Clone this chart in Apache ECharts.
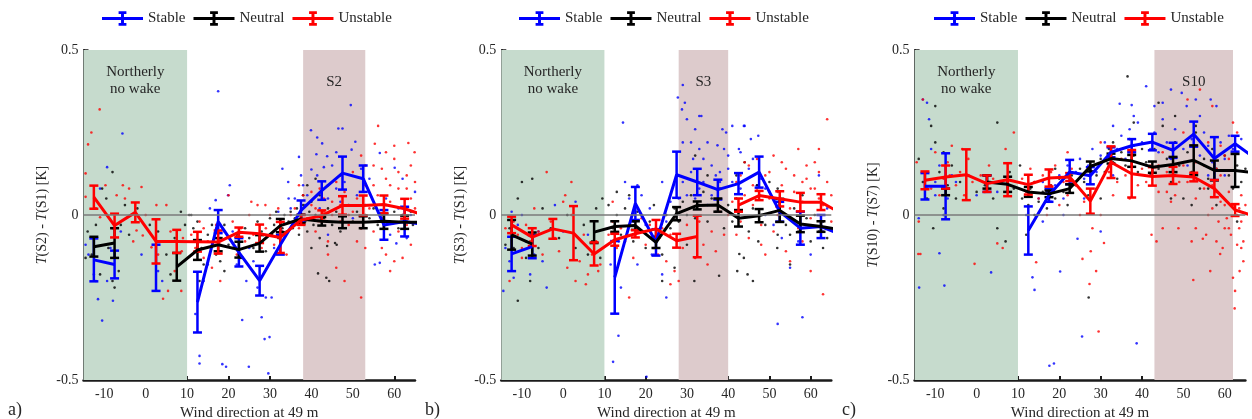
<!DOCTYPE html>
<html><head><meta charset="utf-8">
<script src="https://cdn.jsdelivr.net/npm/echarts@6/dist/echarts.min.js"></script>
<style>html,body{margin:0;padding:0;background:#fff}#c{width:1252px;height:419px}</style>
</head><body><div id="c"></div>
<script>
// ---------------- data ----------------
const dirs = [-12.5,-7.5,-2.5,2.5,7.5,12.5,17.5,22.5,27.5,32.5,37.5,42.5,47.5,52.5,57.5,62.5,67.5];
const xTickValues = [-10,0,10,20,30,40,50,60];
const panelLetters = ['a)','b)','c)'];
const sensorPairs = [['S2','S1'],['S3','S1'],['S10','S7']];
const wakeNames = ['S2','S3','S10'];
const northRange = [-15,10];
const wakeRanges = [[38,53],[28,40],[43,62]];
const classNames = ['Stable','Neutral','Unstable'];

// panel a
const stableA    = [-0.136,-0.15,null,-0.16,null,-0.264,-0.02,-0.113,-0.199,-0.09,0.014,0.074,0.127,0.11,-0.03,-0.02,-0.03];
const stableAErr = [0.065,0.042,null,0.07,null,0.092,0.035,0.043,0.045,0.03,0.03,0.028,0.05,0.04,0.045,0.045,null];
const neutralA    = [-0.096,-0.085,null,null,-0.157,-0.106,-0.09,-0.105,-0.086,-0.032,-0.012,-0.019,-0.022,-0.022,-0.019,-0.022,-0.022];
const neutralAErr = [0.03,0.045,null,null,0.042,0.03,0.02,0.024,0.025,0.02,0.013,0.013,0.018,0.018,0.023,0.02,null];
const unstableA    = [0.054,-0.032,0.008,-0.08,-0.08,-0.081,-0.082,-0.052,-0.057,-0.068,-0.015,-0.002,0.029,0.029,0.032,0.019,-0.002];
const unstableAErr = [0.035,0.036,0.03,0.067,0.035,0.03,0.035,0.014,0.028,0.047,0.015,0.016,0.028,0.03,0.027,0.03,null];
// panel b
const stableB    = [-0.118,-0.096,null,null,null,-0.189,0.035,-0.083,0.122,0.1,0.077,0.095,0.13,0.01,-0.04,-0.035,-0.06];
const stableBErr = [0.052,0.035,null,null,null,0.11,0.05,0.04,0.07,0.04,0.03,0.032,0.047,0.03,0.05,0.035,null];
const neutralB    = [-0.06,-0.088,null,null,-0.052,-0.035,-0.032,-0.083,0.004,0.029,0.03,-0.01,-0.002,0.014,-0.027,-0.035,-0.045];
const neutralBErr = [0.045,0.035,null,null,0.033,0.016,0.013,0.017,0.02,0.012,0.02,0.025,0.02,0.035,0.025,0.016,null];
const unstableB    = [-0.03,-0.067,-0.042,-0.055,-0.118,-0.075,-0.057,-0.042,-0.078,-0.065,null,0.03,0.059,0.049,0.039,0.039,0.004];
const unstableBErr = [0.025,0.027,0.03,0.082,0.035,0.018,0.011,0.027,0.021,0.063,null,0.02,0.014,0.023,0.028,0.024,null];
// panel c
const stableC    = [0.087,0.087,null,0.095,null,-0.047,0.06,0.13,0.119,0.19,0.21,0.221,0.196,0.245,0.171,0.216,0.17];
const stableCErr = [0.04,0.1,null,0.025,null,0.073,0.02,0.037,0.026,0.015,0.02,0.025,0.023,0.038,0.065,0.024,null];
const neutralC    = [null,0.07,null,0.1,0.093,0.07,0.064,0.08,0.147,0.171,0.164,0.145,0.153,0.166,0.135,0.135,0.127];
const neutralCErr = [null,0.01,null,0.02,0.023,0.015,0.01,0.013,0.015,0.015,0.018,0.017,0.023,0.045,0.03,0.05,null];
const unstableC    = [0.105,0.115,0.122,0.095,0.107,0.092,0.112,0.115,0.042,0.16,0.125,0.117,0.12,0.115,0.08,0.015,-0.005];
const unstableCErr = [0.027,0.035,0.077,0.025,0.05,0.03,0.026,0.012,0.038,0.048,0.072,0.028,0.026,0.013,0.026,0.018,null];

// individual samples (estimated)
const stablePtsA = [[-14.5,-0.09],[-13.8,-0.12],[-12,-0.2],[-11.5,-0.255],[-10.5,-0.32],[-11,0.08],[-9.3,0.145],[-5.6,0.247],[-7.9,-0.26],[-9.3,-0.2],[-8.5,-0.1],[-6,-0.05],[-12.5,-0.18],[3,-0.17],[4,-0.2],[-1,-0.12],
 [17.5,0.375],[20.3,0.09],[19.9,0.06],[16.9,0.045],[13,-0.427],[13,-0.45],[18.5,-0.452],[19.4,-0.46],[24.9,-0.46],[28.7,-0.376],[29.9,-0.37],[29.6,-0.48],[23.3,-0.318],[28,-0.31],[29,-0.25],[30.4,-0.25],[24.3,-0.2],[14,-0.2],[15,-0.15],[12,-0.3],[21,-0.05],[25,-0.1],[22,-0.15],[26,-0.14],[31,-0.1],[33,-0.05],[34.5,0.05],[32,0.01],[36,-0.02],[15.5,0.02],[18,-0.07],[27,-0.22],
 [49.5,0.333],[39.9,0.257],[46.5,0.262],[47.5,0.262],[50.6,0.222],[41.4,0.235],[42.6,0.217],[37,0.176],[41.2,0.184],[43.8,0.178],[49.7,0.198],[33,0.14],[40,0.138],[43,0.145],[41.4,0.12],[34.4,0.1],[38,0.09],[45,0.15],[56.5,0.188],[60.1,0.143],[62,0.11],[65,0.07],[55.3,-0.15],[56.5,-0.145],[60.5,-0.086],[59,-0.06],[63,-0.07],[36,0.05],[38.5,0.03],[44,0.05],[46,0.08],[48,0.1],[51,0.06],[52,0.14],[39,0.06],[35,0.02],[42,0.02],[47,0.04],[53,0.03],[58,0.05],[61,0.02],[64,0.0],[38,-0.02],[44,-0.06],[50,-0.01],[54,0.11],[37.5,0.12],[46,0.19]];
const neutralPtsA = [[-14,-0.05],[-13,-0.12],[-12,-0.03],[-11,-0.18],[-10.5,0.08],[-9.5,0.05],[-9,-0.1],[-8,-0.2],[-7.5,-0.22],[-6.5,-0.17],[-6,-0.03],[-5,0.03],[-4,-0.06],[-2,0.02],[1,-0.03],[3,-0.05],[5,-0.12],[6,-0.18],[7,-0.07],[8.5,0.01],[9.5,-0.03],[-8,0.13],[-14.5,-0.13],
 [10.5,0.0],[11.5,-0.04],[12.5,-0.02],[13.5,-0.1],[14,-0.15],[15,-0.06],[16,-0.03],[17,-0.12],[18,-0.14],[19,-0.03],[20,-0.09],[21,-0.1],[22,-0.06],[23,-0.13],[24,-0.04],[25,-0.07],[26,-0.1],[27,-0.02],[28,-0.05],[29,-0.11],[30,-0.01],[30.5,-0.06],[31,-0.03],[31.5,0.01],[32,-0.07],[32.5,-0.02],[33,-0.04],[33.5,0.0],[34,-0.05],[34.5,-0.02],[35,0.01],[35.5,-0.04],[13,-0.2],[19,-0.17],[11,0.0],
 [36,-0.01],[36.5,0.02],[37,-0.03],[37.5,0.0],[38,0.03],[38.5,-0.02],[39,-0.05],[39.5,0.01],[40,0.04],[40.5,-0.03],[41,0.0],[41.6,-0.177],[43.6,-0.19],[44.3,-0.2],[43.8,-0.094],[45.7,-0.085],[46.1,-0.09],[42,0.06],[43,-0.01],[44,0.02],[45,-0.03],[46,0.01],[47,-0.05],[48,0.0],[49,0.03],[50,-0.02],[51,0.01],[52,-0.04],[53,0.0],[54,-0.01],[55,0.02],[56,-0.03],[57,0.0],[58,0.03],[59,-0.02],[60,0.01],[61,-0.04],[62,0.0],[63,-0.02],[64,0.01],[64.5,-0.03],[41,0.11],[39,0.09],[44,0.09],[47,0.12],[38,0.06],[42,-0.07],[40,-0.1],[37,-0.06]];
const unstablePtsA = [[-11.1,0.32],[-13.1,0.25],[-13.9,0.214],[-14.5,0.126],[-14.5,0.055],[-9.7,0.09],[-5.5,0.09],[-4,0.08],[-1,0.085],[2.6,0.03],[5,0.03],[-5,0.05],[-11,-0.007],[-6.7,-0.026],[-2.2,-0.047],[-0.7,-0.062],[1.4,-0.098],[4.2,-0.254],[5.4,-0.23],[8.6,-0.23],[7,-0.17],[8.7,-0.11],[9,-0.07],[-8,-0.04],[-3,-0.08],[0,0.0],[3,-0.12],[6,-0.05],[-12,0.02],[-7,0.06],
 [11,-0.06],[12,-0.1],[13,-0.02],[14,-0.13],[15,-0.08],[16,-0.16],[17,-0.03],[18,-0.09],[19,-0.05],[20,-0.07],[21,-0.02],[22,-0.12],[23,-0.04],[24,-0.08],[25,0.0],[26,-0.06],[27,0.03],[28,-0.1],[29,-0.04],[30,0.0],[31,-0.09],[32,0.02],[33,-0.05],[34,-0.12],[35,0.0],[20,0.06],[25.5,0.04],[28.9,0.03],[18,-0.2],[14,-0.04],
 [36,0.02],[37,-0.04],[38,0.06],[39,-0.01],[40,0.03],[41,-0.05],[42,0.08],[43,0.01],[44,-0.08],[45,0.04],[46,0.1],[47,-0.02],[48,0.07],[49,0.0],[50,0.13],[51,0.05],[52,-0.04],[53,0.09],[54,0.02],[55,0.15],[56,0.06],[57,-0.01],[58,0.11],[59,0.04],[60,0.17],[61,0.08],[62,0.0],[63,0.12],[64,0.05],[65,0.1],[56.1,0.27],[55.3,0.216],[58,0.19],[60,0.21],[63.4,0.218],[64.9,0.19],[52,0.18],[57,0.14],[59,0.09],[61,0.13],[63,0.08],[55,-0.05],[57,-0.1],[58,-0.12],[60,-0.14],[62,-0.13],[64,-0.09],[59,-0.17],[53,-0.1],[51,-0.08],[48,-0.2],[46,-0.16],[44,-0.12],[52,-0.25],[47,0.03],[45,0.0],[41,0.02],[43,0.05],[49,-0.03],[61,-0.05],[63,-0.03],[65,0.02],[37,0.09],[40,0.07],[50,0.01],[53,0.15],[55,0.09],[64,0.15]];

const stablePtsB = [[-14,-0.1],[-13,-0.14],[-12,-0.19],[-11,-0.03],[-10,0.0],[-9,-0.08],[-8,-0.18],[-7,-0.12],[-6,-0.05],[-5,-0.14],[-4,-0.22],[-2,0.03],[0,-0.05],[3,0.04],[6,-0.06],[-12.5,0.01],[-14.5,-0.23],
 [12.1,-0.445],[13.4,-0.366],[14,-0.22],[11.5,-0.15],[15,0.1],[16,0.05],[17,-0.02],[18,0.09],[19,0.06],[20,-0.03],[21,0.02],[22,-0.12],[23,-0.07],[24,0.1],[25,-0.02],[26,0.04],[14.5,0.28],[20.2,-0.49],[13.5,-0.08],[18,-0.15],[24,-0.18],[25,-0.25],[21.5,-0.12],
 [29,0.394],[27.8,0.356],[28.8,0.32],[30,0.29],[33,0.3],[31.5,0.17],[37.4,0.211],[38.6,0.26],[39.5,0.25],[43.8,0.27],[45.5,0.23],[47.3,0.24],[42.6,0.2],[29.5,0.34],[31,0.22],[29,0.22],[32,0.26],[33,0.2],[34,0.17],[35,0.22],[36,0.15],[37,0.12],[38,0.1],[39,0.2],[40,0.14],[41,0.27],[43,0.19],[44,0.27],[46,0.17],[48,0.11],[49,0.08],[50,0.07],[28,0.05],[29,0.1],[30,0.06],[31,0.13],[32,0.05],[33,0.08],[34,0.1],[35,0.03],[36,0.06],[38,0.13],[41,0.1],[43,0.08],[45,0.14],[47,0.09],[49,0.0],[51,-0.03],[53,-0.07],[55,-0.16],[57,-0.08],[60,-0.12],[63,-0.05],[62,0.12],[64,0.02],[58,-0.31],[52,-0.33],[40,0.18],[33.5,0.3]];
const neutralPtsB = [[-14,-0.09],[-13,-0.04],[-12,-0.1],[-11,0.05],[-10,0.1],[-9,-0.13],[-8,-0.2],[-7,-0.06],[-6,-0.1],[-5,0.02],[-3,-0.04],[-1,-0.07],[1,0.0],[3,-0.1],[5,-0.03],[7,-0.08],[8,0.02],[9,-0.13],[-11,-0.26],[-7.5,0.11],[9.5,0.05],[6,-0.12],
 [11,0.03],[12,-0.04],[13,0.0],[14,-0.06],[15,0.02],[16,-0.03],[17,-0.08],[18,0.01],[19,-0.05],[20,-0.1],[21,-0.02],[22,0.03],[23,-0.06],[24,-0.12],[25,0.0],[26,-0.04],[27,0.02],[28,-0.02],[29,0.04],[30,0.0],[31,0.06],[32,-0.01],[33,0.03],[34,0.07],[35,-0.02],[36,0.05],[37,0.01],[38,0.08],[39,-0.04],[40,0.03],[13,0.07],[16,0.06],[24,-0.2],[27,-0.16],[30,-0.09],[32,0.18],[35,0.12],[37.8,-0.184],[31.8,-0.2],
 [41,-0.02],[42,0.05],[42.7,-0.118],[43.8,-0.13],[42.2,-0.17],[44.7,-0.18],[45,-0.05],[46,0.02],[47.3,-0.08],[48,0.0],[49,-0.03],[50,0.1],[51.9,-0.1],[52,-0.06],[53,0.04],[54,-0.03],[55,-0.06],[56,0.02],[57,-0.05],[58,0.06],[59,-0.01],[60,-0.08],[61,0.0],[62,-0.05],[63,-0.02],[64,-0.07],[65,-0.04],[44,0.16],[42,0.12],[47,0.09],[52,0.08],[55,-0.15],[63,-0.1],[46,-0.2]];
const unstablePtsB = [[-14,-0.04],[-13,-0.2],[-12,-0.02],[-11,-0.06],[-10,-0.1],[-9,-0.03],[-8,-0.08],[-7,0.02],[-6,-0.05],[-5,-0.12],[-4,0.13],[-3,-0.02],[-2,-0.07],[-1,-0.11],[0,0.04],[1,-0.16],[2,0.0],[3,-0.2],[4,-0.14],[5,-0.06],[6,-0.18],[7,-0.12],[8,-0.08],[9,-0.15],[0.5,0.06],[-10,-0.13],[2,0.1],[5.5,-0.21],[8.5,-0.17],
 [11,-0.06],[12,-0.02],[13,-0.1],[14,-0.04],[15,-0.08],[16,-0.25],[17,-0.13],[18,-0.05],[19,-0.01],[20,-0.09],[21,-0.03],[22,-0.07],[23,-0.12],[24,-0.04],[25,-0.14],[26,-0.06],[27,-0.17],[28,-0.2],[29,-0.1],[30,-0.03],[31,-0.07],[32,-0.13],[33,-0.02],[34,-0.09],[35,-0.15],[36,-0.05],[37,-0.11],[38,0.01],[39,-0.06],[40,0.0],[14,-0.07],[26,-0.21],[22,-0.1],[12,0.04],
 [41,0.04],[42,0.1],[43,-0.02],[44,0.06],[45,0.15],[46,0.03],[47,0.08],[48,-0.03],[49,0.12],[50,0.05],[51,0.18],[52,0.0],[53,0.09],[54,0.14],[55,0.02],[56,0.07],[57,0.2],[58,0.04],[59,0.11],[60,-0.01],[61,0.08],[62,0.13],[63,0.03],[64,0.1],[65,0.06],[44,0.16],[47,0.17],[50,0.13],[53,0.16],[56,0.12],[59,0.15],[62,0.2],[64,0.29],[61,0.16],[42,-0.06],[45,-0.07],[48,-0.09],[51,-0.05],[54,-0.11],[57,-0.04],[60,-0.17],[63,-0.24],[55,-0.14],[58,-0.08],[49,-0.12],[46,0.09],[52,0.07],[58,0.1],[62,0.05],[65,-0.02],[43,0.12],[60,0.08]];

const stablePtsC = [[-13,0.35],[-12,0.34],[-10,0.1],[-9,0.15],[-11,0.2],[-14,-0.01],[-9,-0.116],[-8,0.0],[-7,0.05],[-13.9,-0.22],[-7.8,-0.214],[3.5,-0.174],[-5,0.1],[-10,0.06],[-12,0.08],[0,0.06],[5,0.07],[-6,0.12],[-11.5,0.29],
 [12,0.0],[13.5,-0.189],[14,-0.227],[17.6,-0.457],[18.7,-0.45],[20.2,-0.171],[24.4,-0.072],[25.5,-0.368],[30,-0.05],[38.7,-0.389],[15,0.05],[16,0.1],[17,0.07],[18,0.04],[19,0.09],[20,0.12],[21,0.05],[22,0.15],[23,0.1],[24,0.13],[25,0.17],[26,0.11],[27,0.15],[28,0.2],[29,0.13],[30,0.18],[31,0.22],[32,0.15],[33,0.27],[34,0.2],[35,0.24],[36,0.17],[37,0.26],[38,0.21],[39,0.28],[40,0.22],[16,-0.02],[21,0.0],[26,0.05],[33,0.12],[34.6,0.337],[37.5,0.333],[41,0.39],[38,0.3],
 [41,0.15],[42,0.2],[43,0.25],[44,0.19],[45,0.29],[46,0.22],[47,0.17],[48,0.26],[49.6,0.37],[50,0.2],[50.8,0.33],[52,0.23],[53,0.35],[54,0.18],[55,0.25],[56,0.21],[56.6,0.35],[57,0.16],[58,0.33],[59,0.22],[60,0.17],[61,0.24],[62,0.2],[63,0.19],[64,0.23],[45,0.34],[51,0.15],[56,0.12],[48,0.12],[54,0.3],[60,0.12],[43,0.33],[47,0.38]];
const neutralPtsC = [[-14,0.17],[-13,0.1],[-12,0.05],[-11,0.27],[-10,0.22],[-10.5,-0.04],[-9,0.13],[-8,0.02],[-7,0.09],[-6,0.15],[-5,0.05],[-4,0.1],[-2,0.12],[0,0.07],[2,0.09],[4,0.05],[5,-0.04],[6,0.1],[8,0.13],[9,0.08],[-10,0.33],[-8,0.19],[5,0.28],[7,-0.08],
 [10.5,0.15],[11,0.05],[12,-0.06],[12.5,0.03],[13,0.08],[14,0.1],[15,0.04],[16,0.07],[17,0.02],[18,0.09],[19,0.05],[20,0.11],[21,0.07],[22,0.03],[23,0.12],[24,0.09],[25,0.14],[26,0.1],[27,0.06],[28,0.15],[29,0.12],[30,0.17],[31,0.13],[32,0.2],[33,0.16],[34,0.11],[35,0.19],[36,0.15],[37,0.23],[38,0.18],[39,0.13],[40,0.2],[27.1,-0.25],[14,0.0],[19,0.14],[29,0.08],[33,0.22],[36.5,0.42],[38,0.28],[30,0.05],
 [41,0.16],[42,0.12],[43,0.2],[44,0.14],[45,0.27],[46,0.17],[47,0.1],[48,0.22],[49,0.15],[50,0.05],[51,0.19],[52,0.13],[53,0.25],[54,0.08],[55,0.17],[56,0.11],[57,0.2],[58,0.14],[59,0.06],[60,0.18],[61,0.12],[62,0.08],[63,0.15],[64,0.1],[65,0.14],[44,0.34],[48,0.3],[53,0.27],[58,0.03],[63,-0.02],[47,0.05],[52,0.03],[56,0.08]];
const unstablePtsC = [[-14,-0.02],[-14.1,-0.118],[-13.6,-0.118],[-14.5,0.16],[-13,0.35],[-12,0.13],[-11,0.08],[-10,0.19],[-9,0.06],[-8,0.11],[-7,0.16],[-6,0.21],[-5,0.09],[-4,0.13],[-3,0.06],[-2,0.17],[-1,0.1],[-0.5,-0.148],[1,0.12],[2,0.07],[3,0.15],[4,0.11],[5,-0.086],[6.3,-0.1],[7,0.2],[8,0.09],[9,0.25],[-6.5,0.12],[-3.5,0.2],
 [11,0.11],[12,0.07],[13,0.14],[14,0.1],[14.4,-0.143],[15,0.05],[16,0.12],[17,0.0],[18,0.09],[19,0.15],[20,0.03],[21,0.1],[22,0.06],[23,0.14],[24,0.09],[25,0.0],[25.6,-0.133],[26,0.04],[27.3,-0.209],[27.6,-0.11],[28,-0.04],[28.9,-0.17],[29.5,-0.353],[30.8,-0.085],[30,0.0],[32,0.13],[33,0.06],[34,0.1],[35,0.17],[36,0.12],[37,0.05],[38,0.19],[39,0.09],[40,0.14],[22,0.19],[30,0.22],[18,0.13],
 [41,0.1],[42.3,-0.06],[43.5,-0.08],[44,0.15],[45,-0.04],[46,0.07],[47,0.2],[48,0.12],[48.8,-0.04],[50,0.25],[51,0.1],[52,-0.08],[52.4,-0.197],[53,0.05],[54.7,-0.072],[55,0.15],[55.5,-0.06],[56,0.0],[56.5,-0.17],[57,0.09],[58,-0.08],[58.5,-0.02],[58.9,-0.118],[59,0.12],[59.5,-0.1],[60,0.03],[60.5,-0.01],[61,0.07],[61.5,-0.06],[62,-0.19],[62.5,-0.23],[63,0.0],[63,-0.09],[63.5,-0.04],[64,-0.02],[63.6,-0.17],[64.5,-0.08],[65,0.03],[62.4,-0.283],[64,-0.1],[45,0.19],[48,0.06],[50,0.15],[53,0.16],[56,0.22],[59,0.21],[62,0.28],[57,0.33],[51,0.35],[54,0.38],[61,0.17],[63,0.25],[58,0.14],[60,0.18],[44,0.07],[46,0.13],[49,0.1],[52,0.12],[55,0.08],[57,0.02],[59,0.04],[61,-0.04],[62,0.03],[64,0.06],[63.5,0.02],[42,0.15],[47,0.04],[53,-0.04],[58,0.07],[60,-0.04],[64.5,-0.14]];

const meanData = [[stableA,neutralA,unstableA],[stableB,neutralB,unstableB],[stableC,neutralC,unstableC]];
const errData  = [[stableAErr,neutralAErr,unstableAErr],[stableBErr,neutralBErr,unstableBErr],[stableCErr,neutralCErr,unstableCErr]];
const ptsData  = [[stablePtsA,neutralPtsA,unstablePtsA],[stablePtsB,neutralPtsB,unstablePtsB],[stablePtsC,neutralPtsC,unstablePtsC]];

// ---------------- styling ----------------
const colors = ['#0000ff','#000000','#ff0000'];
const FONT = '"Liberation Serif","DejaVu Serif",serif';
const TXT = '#262626';
const gridBoxes = [
  {left:83.5, top:50, width:331.5, height:330},
  {left:501.3, top:50, width:330, height:330},
  {left:914.6, top:50, width:330.8, height:330}
];
const legendLefts = [102, 519, 934];
const letterLefts = [8, 425, 842];
const legendIcon = 'path://M0,6h42v3h-42z M19.5,0h3v15h-3z M17,0h8v3h-8z M17,12h8v3h-8z';

function renderErr(params, api) {
  const x = api.value(0), c = api.value(1), e = api.value(2);
  if (isNaN(c) || isNaN(e)) return;
  const top = api.coord([x, c + e]), bot = api.coord([x, c - e]);
  const hw = 4.5;
  const style = {stroke: api.visual('color'), lineWidth: 2.5};
  return {type:'group', children:[
    {type:'line', shape:{x1:top[0],y1:top[1],x2:bot[0],y2:bot[1]}, style},
    {type:'line', shape:{x1:top[0]-hw,y1:top[1],x2:top[0]+hw,y2:top[1]}, style},
    {type:'line', shape:{x1:bot[0]-hw,y1:bot[1],x2:bot[0]+hw,y2:bot[1]}, style}
  ]};
}

const grid = gridBoxes.map(g => Object.assign({containLabel:false, outerBoundsMode:'none'}, g));
const xAxis = [0,1,2].map(i => ({
  gridIndex:i, type:'value', min:-15, max:65,
  name:'Wind direction at 49 m', nameLocation:'middle', nameGap:24,
  nameTextStyle:{fontFamily:FONT, fontSize:15, color:TXT},
  axisLine:{show:true, onZero:false, lineStyle:{color:'#1a1a1a', width:2.5}},
  axisTick:{show:true, inside:true, length:4, customValues:xTickValues, lineStyle:{color:'#1a1a1a', width:2}},
  axisLabel:{customValues:xTickValues, fontFamily:FONT, fontSize:14, color:TXT, margin:7},
  splitLine:{show:false}
}));
const yAxis = [0,1,2].map(i => ({
  gridIndex:i, type:'value', min:-0.5, max:0.5, interval:0.5,
  name:'{i|T}(' + sensorPairs[i][0] + ') - {i|T}(' + sensorPairs[i][1] + ') [K]',
  nameLocation:'middle', nameGap:34,
  nameTextStyle:{fontFamily:FONT, fontSize:14, color:TXT,
    rich:{i:{fontFamily:FONT, fontSize:14, fontStyle:'italic', color:TXT}}},
  axisLine:{show:true, onZero:false, lineStyle:{color:'#1a1a1a', width:2}},
  axisTick:{show:true, inside:true, length:5, lineStyle:{color:'#1a1a1a', width:1.5}},
  axisLabel:{fontFamily:FONT, fontSize:14, color:TXT, margin:5,
    formatter: v => (v === 0 ? '0' : String(v))},
  splitLine:{show:false}
}));

const series = [];
for (let i = 0; i < 3; i++) {
  // shaded regions
  series.push({
    type:'line', xAxisIndex:i, yAxisIndex:i, data:[], z:1, silent:true,
    markArea:{silent:true,
      label:{show:true, position:'insideTop', distance:14, fontFamily:FONT, fontSize:15, lineHeight:16.5, color:TXT},
      data:[
        [{name:'Northerly\nno wake', xAxis:northRange[0], itemStyle:{color:'#c6dbcd'}}, {xAxis:northRange[1]}],
        [{name:wakeNames[i], xAxis:wakeRanges[i][0], itemStyle:{color:'#ddcbcc'}, label:{distance:24}}, {xAxis:wakeRanges[i][1]}]
      ]}
  });
  // zero line
  series.push({
    type:'line', xAxisIndex:i, yAxisIndex:i, data:[], z:2, silent:true,
    markLine:{silent:true, symbol:['none','none'], label:{show:false},
      lineStyle:{color:'#7a7a7a', width:1.5, type:'solid'}, data:[{yAxis:0}]}
  });
  // samples
  for (let k = 0; k < 3; k++) {
    series.push({
      type:'scatter', name:classNames[k] + ' samples', xAxisIndex:i, yAxisIndex:i, z:3, silent:true,
      symbol:'circle', symbolSize:2.6, itemStyle:{color:colors[k]},
      data: ptsData[i][k]
    });
  }
  // means + error bars
  for (let k = 0; k < 3; k++) {
    series.push({
      type:'line', name:classNames[k], xAxisIndex:i, yAxisIndex:i, z:4, silent:true,
      symbol:'none', connectNulls:false, clip:true,
      itemStyle:{color:colors[k]}, lineStyle:{color:colors[k], width:3},
      data: dirs.map((d, j) => [d, meanData[i][k][j] === null ? '-' : meanData[i][k][j]])
    });
    series.push({
      type:'custom', name:classNames[k] + ' err', xAxisIndex:i, yAxisIndex:i, z:4, silent:true, clip:true,
      itemStyle:{color:colors[k]}, encode:{x:0, y:1},
      renderItem: renderErr,
      data: dirs.map((d, j) => [d, meanData[i][k][j], errData[i][k][j]])
               .filter(r => r[1] !== null && r[2] !== null)
    });
  }
}

const legend = [0,1,2].map(i => ({
  left: legendLefts[i], top: 11, padding:0, orient:'horizontal',
  itemWidth:41, itemHeight:15, itemGap:8, selectedMode:false,
  textStyle:{fontFamily:FONT, fontSize:15, color:TXT},
  data: classNames.map(n => ({name:n, icon:legendIcon}))
}));

const title = [0,1,2].map(i => ({
  text: panelLetters[i], left: letterLefts[i], top: 401, padding:0,
  textStyle:{fontFamily:FONT, fontSize:18, fontWeight:'normal', color:TXT}
}));

const chart = echarts.init(document.getElementById('c'), null, {renderer:'canvas'});
chart.setOption({animation:false, backgroundColor:'#fff', title, legend, grid, xAxis, yAxis, series});
</script></body></html>
